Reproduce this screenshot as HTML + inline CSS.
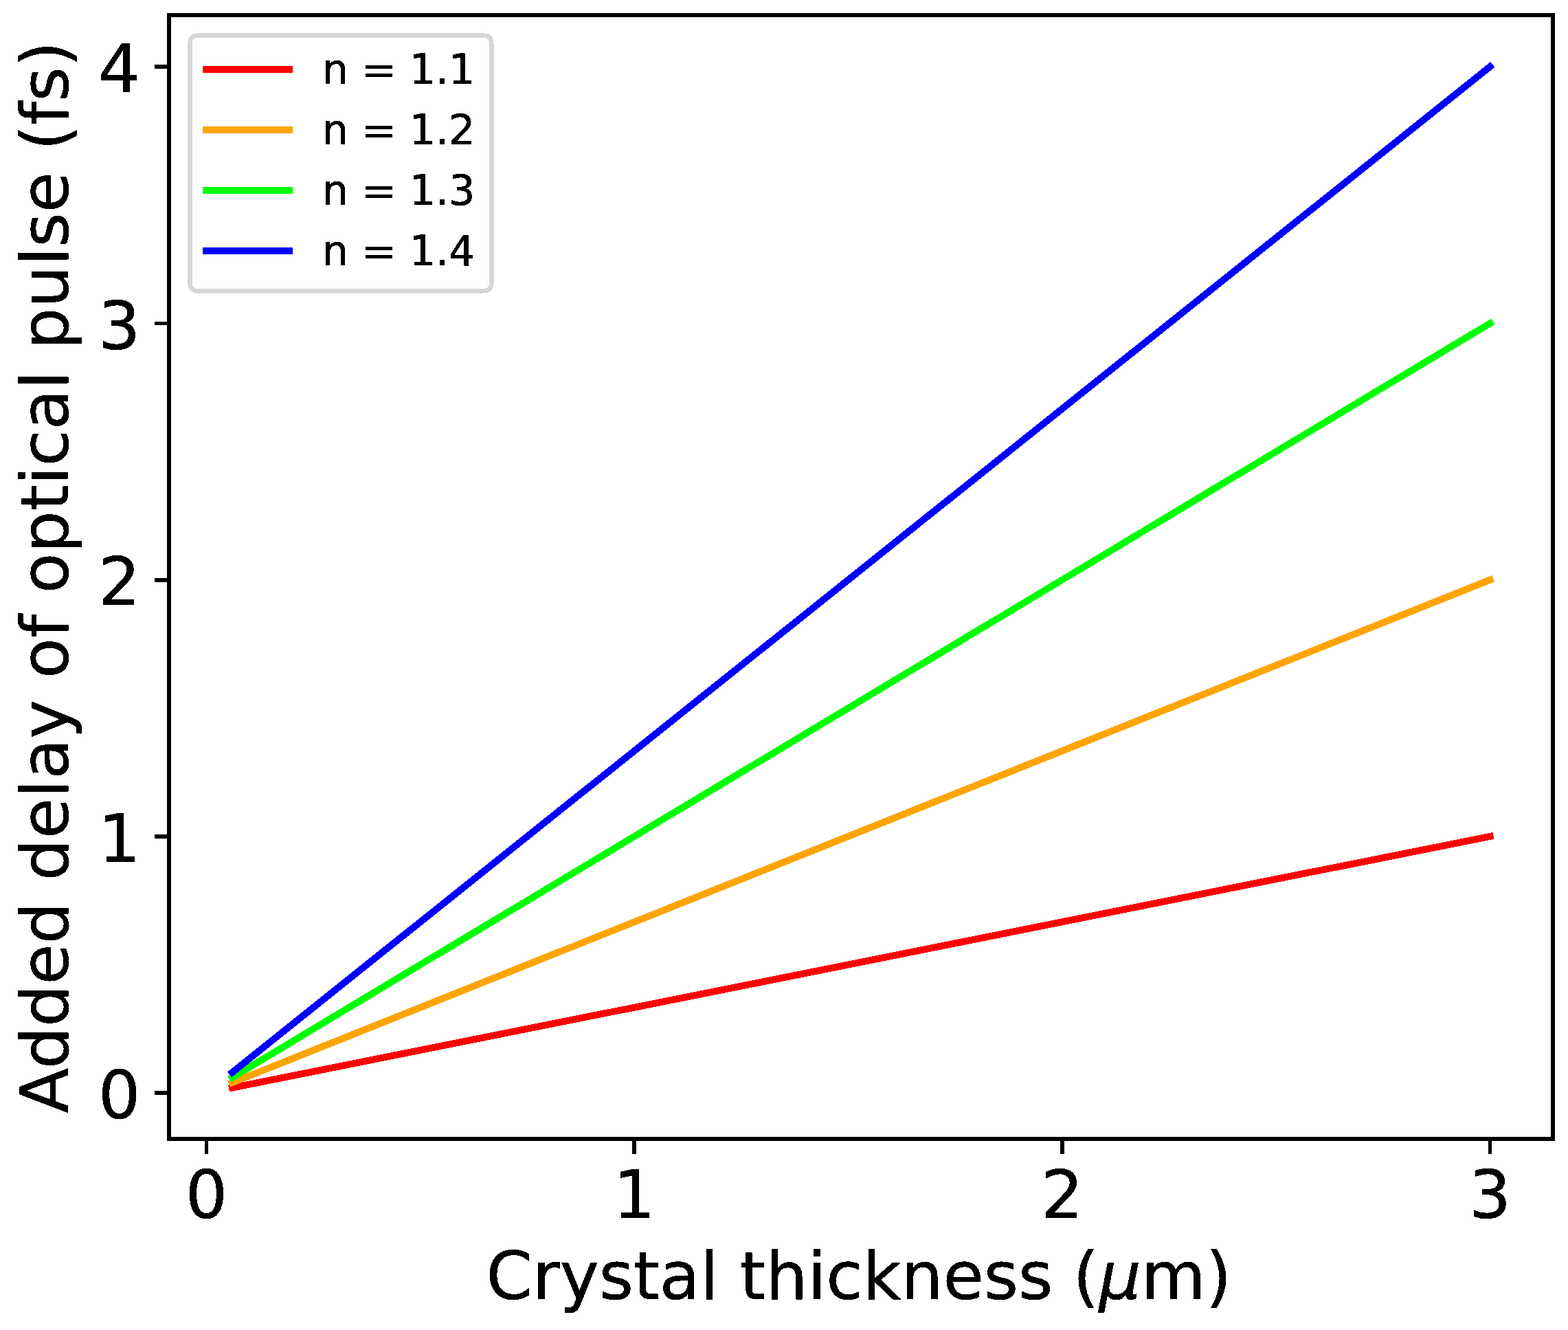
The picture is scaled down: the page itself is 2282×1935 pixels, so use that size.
<!DOCTYPE html>
<html lang="en"><head><meta charset="utf-8"><title>Added delay of optical pulse vs crystal thickness</title>
<style>html,body{margin:0;padding:0;background:#fff;width:2282px;height:1935px;overflow:hidden;}svg{display:block;}text{font-family:"DejaVu Sans","Liberation Sans",sans-serif;fill:#000;stroke:#000;stroke-width:0.6px;}</style></head><body>
<svg width="2282" height="1935" viewBox="0 0 2282 1935">
<defs><filter id="bin" x="0" y="0" width="2282" height="1935" filterUnits="userSpaceOnUse" color-interpolation-filters="sRGB"><feComponentTransfer><feFuncA type="discrete" tableValues="0 1"/></feComponentTransfer></filter></defs>
<rect x="0" y="0" width="2282" height="1935" fill="#fff"/>
<g shape-rendering="crispEdges">
<line x1="337.86" y1="1582.63" x2="2168.51" y2="1216.85" stroke="#ff0000" stroke-width="10" stroke-linecap="square"/>
<line x1="337.86" y1="1575.17" x2="2168.51" y2="843.60" stroke="#ffa500" stroke-width="10" stroke-linecap="square"/>
<line x1="337.86" y1="1567.70" x2="2168.51" y2="470.35" stroke="#00ff00" stroke-width="10" stroke-linecap="square"/>
<line x1="337.86" y1="1560.24" x2="2168.51" y2="97.10" stroke="#0000ff" stroke-width="10" stroke-linecap="square"/>
<rect x="246" y="22" width="2014" height="1635" fill="none" stroke="#000" stroke-width="6"/>
<line x1="224.9" y1="1590.10" x2="246" y2="1590.10" stroke="#000" stroke-width="5.6"/>
<line x1="224.9" y1="1216.85" x2="246" y2="1216.85" stroke="#000" stroke-width="5.6"/>
<line x1="224.9" y1="843.75" x2="246" y2="843.75" stroke="#000" stroke-width="5.6"/>
<line x1="224.9" y1="470.35" x2="246" y2="470.35" stroke="#000" stroke-width="5.6"/>
<line x1="224.9" y1="97.10" x2="246" y2="97.10" stroke="#000" stroke-width="5.6"/>
<line x1="300.50" y1="1657" x2="300.50" y2="1678.8" stroke="#000" stroke-width="5.6"/>
<line x1="923.17" y1="1657" x2="923.17" y2="1678.8" stroke="#000" stroke-width="5.6"/>
<line x1="1545.84" y1="1657" x2="1545.84" y2="1678.8" stroke="#000" stroke-width="5.6"/>
<line x1="2168.51" y1="1657" x2="2168.51" y2="1678.8" stroke="#000" stroke-width="5.6"/>
<path d="M288.46 51.6L703.34 51.6Q715.4 51.6 715.4 63.66L715.4 411.24Q715.4 423.3 703.34 423.3L288.46 423.3Q276.4 423.3 276.4 411.24L276.4 63.66Q276.4 51.6 288.46 51.6Z" fill="#fff" stroke="#d6d6d6" stroke-width="6.4"/>
<line x1="299.9" y1="101.00" x2="421" y2="101.00" stroke="#ff0000" stroke-width="10" stroke-linecap="square"/>
<line x1="299.9" y1="189.00" x2="421" y2="189.00" stroke="#ffa500" stroke-width="10" stroke-linecap="square"/>
<line x1="299.9" y1="277.00" x2="421" y2="277.00" stroke="#00ff00" stroke-width="10" stroke-linecap="square"/>
<line x1="299.9" y1="365.00" x2="421" y2="365.00" stroke="#0000ff" stroke-width="10" stroke-linecap="square"/>
</g>
<g filter="url(#bin)">
<text x="204.5" y="1627.3" font-size="96.5" text-anchor="end">0</text>
<text x="204.5" y="1253.9" font-size="96.5" text-anchor="end">1</text>
<text x="204.5" y="879.8" font-size="96.5" text-anchor="end">2</text>
<text x="204.5" y="507.6" font-size="96.5" text-anchor="end">3</text>
<text x="204.5" y="133.8" font-size="96.5" text-anchor="end">4</text>
<text x="300.50" y="1772" font-size="96.5" text-anchor="middle">0</text>
<text x="923.17" y="1772" font-size="96.5" text-anchor="middle">1</text>
<text x="1545.84" y="1772" font-size="96.5" text-anchor="middle">2</text>
<text x="2168.51" y="1772" font-size="96.5" text-anchor="middle">3</text>
<text x="707.6" y="1890" font-size="96.5">Crystal thickness <tspan dx="-1.4">(</tspan><tspan font-style="italic">μ</tspan>m)</text>
<text transform="translate(98.9 839.6) rotate(-90)" font-size="96.5" text-anchor="middle">Added delay of optical pulse (fs)</text>
<text x="468.8" y="122.00" font-size="60.5">n = <tspan dx="-0.9">1.1</tspan></text>
<text x="468.8" y="209.90" font-size="60.5">n = <tspan dx="-0.9">1.2</tspan></text>
<text x="468.8" y="297.80" font-size="60.5">n = <tspan dx="-0.9">1.3</tspan></text>
<text x="468.8" y="385.70" font-size="60.5">n = <tspan dx="-0.9">1.4</tspan></text>
</g>
</svg>
</body></html>
